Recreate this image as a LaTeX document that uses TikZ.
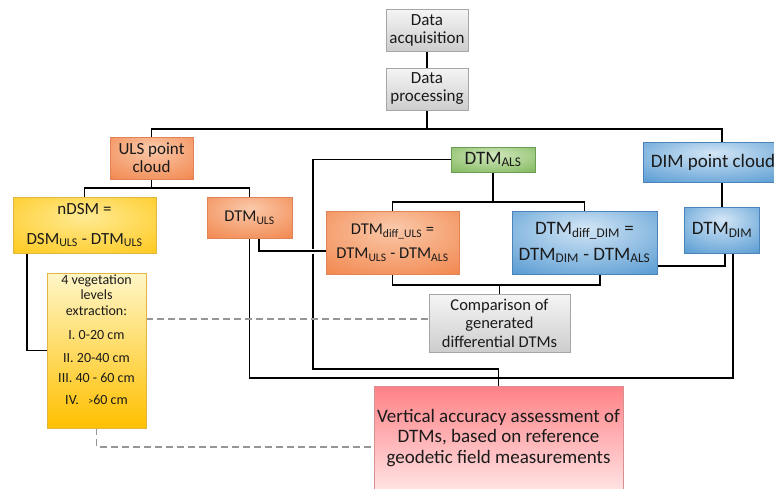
\documentclass[tikz,border=0pt]{standalone}
\usepackage{fontspec}
\setmainfont{Carlito}
\usetikzlibrary{backgrounds}
\definecolor{txt}{HTML}{1A1A1A}
\definecolor{grayTop}{HTML}{F5F5F5}
\definecolor{grayBot}{HTML}{CDCDCD}
\definecolor{grayBd}{HTML}{A6A6A6}
\definecolor{orIn}{HTML}{FAC9AA}
\definecolor{orOut}{HTML}{F07A3C}
\definecolor{orBd}{HTML}{E08458}
\definecolor{yeIn}{HTML}{FFEB94}
\definecolor{yeOut}{HTML}{FFC000}
\definecolor{yeBd}{HTML}{E3B640}
\definecolor{vgTop}{HTML}{FFF6C8}
\definecolor{vgBot}{HTML}{FFC000}
\definecolor{grIn}{HTML}{D2E8BE}
\definecolor{grOut}{HTML}{70AE48}
\definecolor{grBd}{HTML}{6A9E52}
\definecolor{blIn}{HTML}{D3E6F6}
\definecolor{blOut}{HTML}{3F8CCB}
\definecolor{blBd}{HTML}{4A84BA}
\definecolor{pkTop}{HTML}{FF8186}
\definecolor{pkBot}{HTML}{FFE3E4}
\definecolor{pkBd}{HTML}{D89090}
\definecolor{dgray}{HTML}{969696}
\pgfdeclareradialshading{orsh}{\pgfpoint{0bp}{12bp}}{color(0bp)=(orIn); color(22bp)=(orIn!55!orOut); color(48bp)=(orOut); color(80bp)=(orOut)}
\pgfdeclareradialshading{yesh}{\pgfpoint{0bp}{8bp}}{color(0bp)=(yeIn); color(22bp)=(yeIn!55!yeOut); color(48bp)=(yeOut); color(80bp)=(yeOut)}
\pgfdeclareradialshading{grsh}{\pgfpoint{0bp}{10bp}}{color(0bp)=(grIn); color(22bp)=(grIn!55!grOut); color(48bp)=(grOut); color(80bp)=(grOut)}
\pgfdeclareradialshading{blsh}{\pgfpoint{0bp}{12bp}}{color(0bp)=(blIn); color(22bp)=(blIn!55!blOut); color(48bp)=(blOut); color(80bp)=(blOut)}
\newcommand\fsz[2]{\fontsize{#1}{#2}\selectfont}
\newcommand\sbs[1]{\textsubscript{#1}}
\begin{document}
\begin{tikzpicture}[x=1pt,y=-1pt,
  box/.style={line width=0.6pt, inner sep=0pt, align=center, text=txt},
  graybox/.style={box, draw=grayBd, top color=grayTop, bottom color=grayBot},
  orbox/.style={box, draw=orBd, shading=orsh},
  yebox/.style={box, draw=yeBd, shading=yesh},
  vgbox/.style={box, draw=yeBd, top color=vgTop, bottom color=vgBot},
  grbox/.style={box, draw=grBd, shading=grsh},
  blbox/.style={box, draw=blBd, shading=blsh},
  pkbox/.style={box, draw=pkBd, top color=pkTop, bottom color=pkBot},
  conn/.style={draw=black, line width=1.8pt},
  gapline/.style={draw=white, line width=5pt},
  dashline/.style={draw=dgray, line width=1.5pt, dash pattern=on 7pt off 4pt}]
\useasboundingbox (0,0) rectangle (774,488);

\node[graybox, minimum width=82pt, minimum height=42pt, font=\fsz{17}{18}] (da) at (427,30) {Data\\acquisition};
\node[graybox, minimum width=82pt, minimum height=42pt, font=\fsz{17}{18}] (dp) at (427,89) {Data\\processing};
\node[orbox, minimum width=83pt, minimum height=42pt, font=\fsz{17}{18}] (uls) at (151.5,158) {ULS point\\cloud};
\node[blbox, minimum width=140pt, minimum height=40pt, font=\fsz{19}{21}] (dim) at (713,162) {DIM point cloud};
\node[grbox, minimum width=84pt, minimum height=25pt, font=\fsz{19}{21}] (als) at (493,159.5) {DTM\sbs{ALS}};
\node[yebox, minimum width=143pt, minimum height=56pt, font=\fsz{17}{20}] (ndsm) at (84.5,225) {nDSM =\\[10pt]DSM\sbs{ULS} - DTM\sbs{ULS}};
\node[orbox, minimum width=85pt, minimum height=41pt, font=\fsz{16.5}{18}] (dtmuls) at (249.5,217.5) {DTM\sbs{ULS}};
\node[orbox, minimum width=133pt, minimum height=63pt, font=\fsz{16.5}{24}] (diffuls) at (392.5,242.5) {DTM\sbs{diff\_ULS} =\\DTM\sbs{ULS} - DTM\sbs{ALS}};
\node[blbox, minimum width=145pt, minimum height=63pt, font=\fsz{19}{26}] (diffdim) at (584.5,242.5) {DTM\sbs{diff\_DIM} =\\DTM\sbs{DIM} - DTM\sbs{ALS}};
\node[blbox, minimum width=75pt, minimum height=46pt, font=\fsz{19}{21}] (dtmdim) at (722,230) {DTM\sbs{DIM}};
\node[graybox, minimum width=141pt, minimum height=58pt, font=\fsz{16.5}{18.5}] (comp) at (499.5,323) {Comparison of\\generated\\differential DTMs};
\node[vgbox, minimum width=99pt, minimum height=155pt] (veg) at (96.5,350.5) {};
\node[anchor=north, align=center, inner sep=0pt, text=txt, font=\fsz{14}{15.5}] (vegtext) at (96.5,274.5)
  {4 vegetation\\levels\\extraction:\\[9pt]I. 0-20 cm\\[7pt]II. 20-40 cm\\[5pt]III. 40 - 60 cm\\[6.5pt]IV.\ \ \ {\fsz{10}{12}>}60 cm};
\node[pkbox, minimum width=249pt, minimum height=104pt, font=\fsz{19}{20.5}] (vert) at (498.5,438) {Vertical accuracy assessment of\\DTMs, based on reference\\geodetic field measurements};

\coordinate (bus1) at (427,129);
\coordinate (bus2) at (151.5,188);
\coordinate (bus3) at (493,202);
\coordinate (bus4) at (499.5,285);
\coordinate (j1) at (313,369);
\coordinate (j2) at (249.5,378);

\begin{scope}[on background layer]
\draw[conn] (da.south) -- (dp.north);
\draw[conn] (dp.south) -- (bus1);
\draw[conn] (uls.north) |- (bus1) -| ([xshift=9pt]dim.north);
\draw[conn] (uls.south) -- (bus2);
\draw[conn] (ndsm.north) |- (bus2) -| (dtmuls.north);
\draw[conn] ([xshift=14pt]ndsm.south west) |- (veg.west);
\draw[conn] (als.west) -| (j1) -| (vert.north);
\draw[conn] (als.south) -- (bus3);
\draw[conn] (diffuls.north) |- (bus3) -| (diffdim.north);
\draw[gapline] ([xshift=9.5pt]dtmuls.south) |- ([yshift=-8.5pt]diffuls.west);
\draw[conn] ([xshift=9.5pt]dtmuls.south) |- ([yshift=-8.5pt]diffuls.west);
\draw[conn] ([yshift=-23.5pt]diffdim.east) -| ([xshift=3pt]dtmdim.south);
\draw[conn] (dim.south -| dtmdim.north) -- (dtmdim.north);
\draw[conn] (dtmuls.south) -- (j2) -| ([xshift=11pt]dtmdim.south);
\draw[conn] (diffuls.south) |- (bus4) -| ([xshift=15.5pt]diffdim.south);
\draw[conn] (bus4) -- (comp.north);
\draw[dashline] ([yshift=31.5pt]veg.east) -- ([yshift=4pt]comp.west);
\draw[dashline] (veg.south) |- ([yshift=-9pt]vert.west);
\end{scope}
\end{tikzpicture}
\end{document}
